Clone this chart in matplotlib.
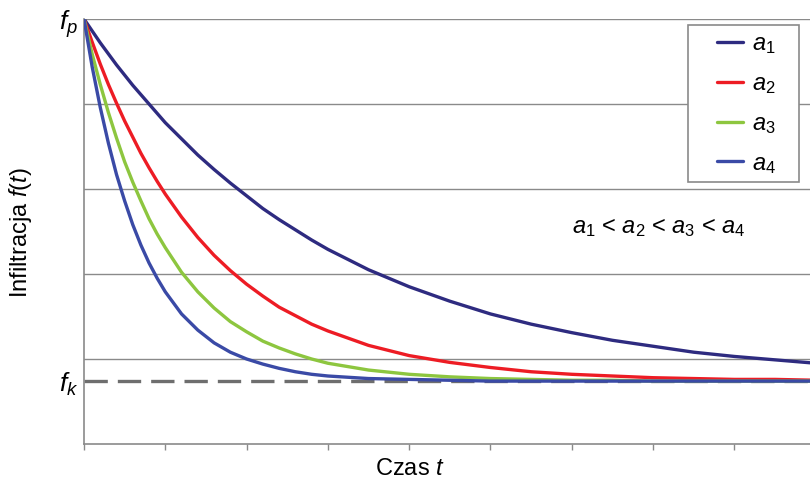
import matplotlib
matplotlib.use("Agg")
import matplotlib.pyplot as plt
from matplotlib.patches import Rectangle

plt.rcParams['font.family'] = ['Liberation Sans', 'DejaVu Sans']
plt.rcParams['mathtext.fontset'] = 'custom'
plt.rcParams['mathtext.rm'] = 'Liberation Sans'
plt.rcParams['mathtext.it'] = 'Liberation Sans:italic'

# time values (in tick units)
t = [0, 0.1, 0.2, 0.3, 0.4, 0.5, 0.6, 0.7, 0.8, 0.9, 1.0, 1.2, 1.4, 1.6, 1.8,
     2.0, 2.2, 2.4, 2.6, 2.8, 3.0, 3.5, 4.0, 4.5, 5.0, 5.5, 6.0, 6.5, 7.0,
     7.5, 8.0, 8.5, 9.0]

a1_vals = [5.00, 4.86, 4.72, 4.59, 4.46, 4.34, 4.22, 4.11, 4.00, 3.89, 3.78,
           3.59, 3.40, 3.23, 3.07, 2.92, 2.77, 2.64, 2.52, 2.40, 2.29, 2.05,
           1.85, 1.68, 1.53, 1.41, 1.31, 1.22, 1.15, 1.08, 1.03, 0.99, 0.95]
a2_vals = [5.00, 4.73, 4.47, 4.23, 4.01, 3.80, 3.61, 3.42, 3.25, 3.09, 2.94,
           2.67, 2.43, 2.22, 2.04, 1.88, 1.74, 1.61, 1.51, 1.41, 1.33, 1.16,
           1.04, 0.96, 0.90, 0.85, 0.82, 0.80, 0.78, 0.77, 0.76, 0.76, 0.75]
a3_vals = [5.00, 4.59, 4.23, 3.90, 3.60, 3.32, 3.08, 2.86, 2.65, 2.47, 2.31,
           2.02, 1.79, 1.60, 1.44, 1.32, 1.21, 1.13, 1.06, 1.00, 0.95, 0.87,
           0.82, 0.79, 0.77, 0.76, 0.75, 0.75, 0.74, 0.74, 0.74, 0.74, 0.74]
a4_vals = [5.00, 4.44, 3.96, 3.54, 3.17, 2.86, 2.58, 2.34, 2.13, 1.95, 1.79,
           1.53, 1.34, 1.19, 1.08, 1.00, 0.94, 0.89, 0.85, 0.82, 0.80, 0.77,
           0.76, 0.75, 0.74, 0.74, 0.74, 0.74, 0.74, 0.74, 0.74, 0.74, 0.74]

series_labels = ["$a_1$", "$a_2$", "$a_3$", "$a_4$"]
series_colors = ["#2e2b80", "#ed1c24", "#8dc63f", "#3a4aa6"]

fp_value = 5.0
fk_value = 0.74
grid_levels = [1, 2, 3, 4, 5]
x_ticks = [0, 1, 2, 3, 4, 5, 6, 7, 8]

W, H = 810, 479
fig = plt.figure(figsize=(W / 100, H / 100), dpi=100)
ax = fig.add_axes([84 / W, 1 - 444 / H, 1 - 84 / W, (444 - 19) / H])
ax.set_xlim(0, 8.93)
ax.set_ylim(0, 5.0)

gray = "#8a8a8a"
for g in grid_levels:
    ax.axhline(g, color=gray, lw=1.0, zorder=1)

ax.axhline(fk_value, color="#6e6e6e", lw=2.4, dashes=(7.0, 3.0), zorder=2)

for vals, lab, col in zip([a1_vals, a2_vals, a3_vals, a4_vals], series_labels, series_colors):
    ax.plot(t, vals, color=col, lw=2.4, label=lab, zorder=3,
            solid_capstyle='round', solid_joinstyle='round')

for s in ['top', 'right']:
    ax.spines[s].set_visible(False)
for s in ['left', 'bottom']:
    ax.spines[s].set_color(gray)
    ax.spines[s].set_linewidth(1.2)

ax.set_xticks(x_ticks)
ax.set_xticklabels([])
ax.tick_params(axis='x', direction='out', length=4, color=gray, width=1)
ax.set_yticks([fk_value, fp_value])
ax.set_yticklabels(["$f_k$", "$f_p$"], fontsize=19)
ax.tick_params(axis='y', length=0, pad=4)

fig.text(20 / W, 1 - 233 / H, "Infiltracja $f(t)$", fontsize=17, rotation=90,
         ha='center', va='center')
fig.text(410 / W, 1 - 469 / H, "Czas $t$", fontsize=17, ha='center', va='center')

fig.text(659 / W, 1 - 228 / H, "$a_1$ < $a_2$ < $a_3$ < $a_4$", fontsize=17,
         ha='center', va='center')

# legend frame
frame = Rectangle((688 / W, 1 - 182 / H), (799 - 688) / W, (182 - 25) / H,
                  transform=fig.transFigure, facecolor='white',
                  edgecolor=gray, lw=1.2, zorder=4, clip_on=False)
ax.add_patch(frame)
leg = ax.legend(loc='upper left', bbox_to_anchor=(717 / W, 1 - 33 / H),
                bbox_transform=fig.transFigure, fontsize=17, frameon=False,
                handlelength=1.1, labelspacing=0.72, borderpad=0,
                handletextpad=0.4, borderaxespad=0)
leg.set_zorder(5)

fig.savefig("out.png", dpi=100)
